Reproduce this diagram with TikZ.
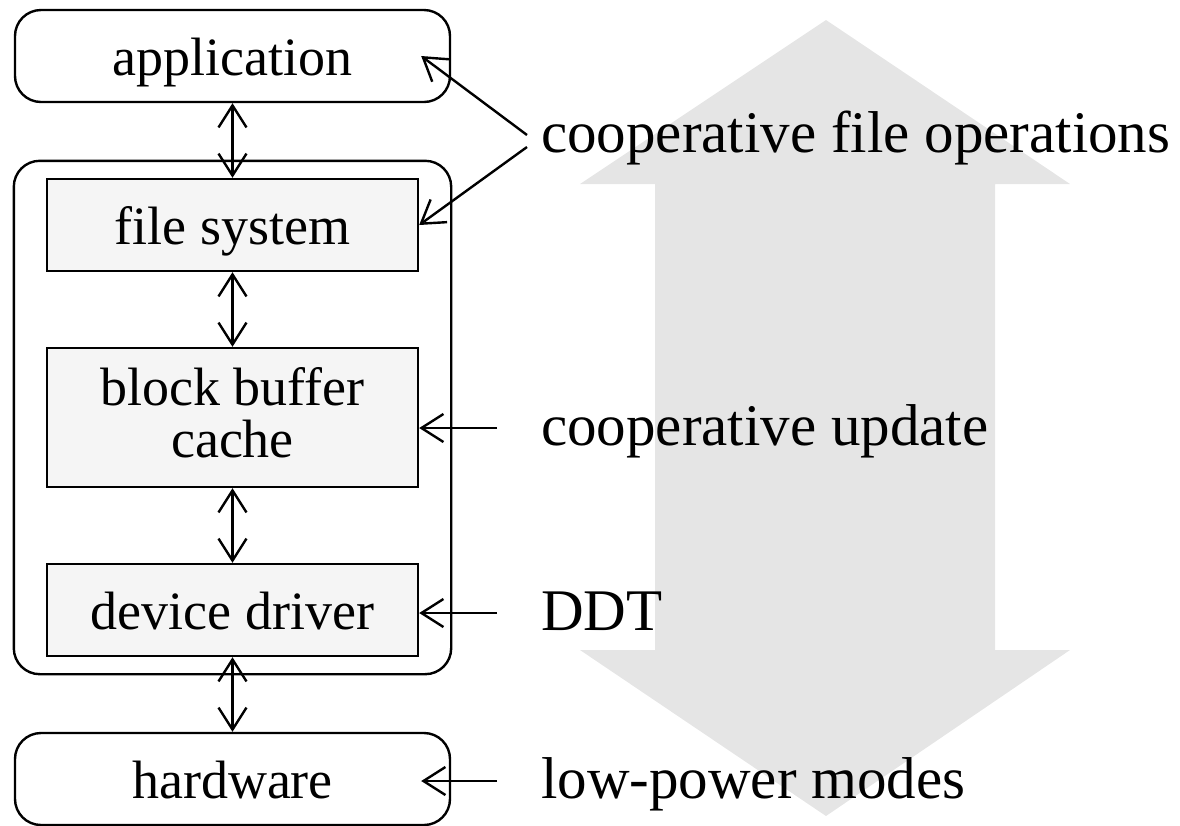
\documentclass[tikz,border=0pt]{standalone}
\usepackage{fontspec}
\setmainfont{Liberation Serif}
\usetikzlibrary{positioning, fit, arrows.meta}
\tikzset{
    >={Straight Barb[length=11pt,width=14pt]},
    node distance=37.3pt,
    boxfont/.style={font=\fontsize{27}{26}\selectfont},
    oneline/.style={text height=21.5pt, text depth=2pt},
    layer/.style={draw, rounded corners=13pt, minimum width=217.5pt, minimum height=46pt, boxfont, oneline},
    partbase/.style={draw, fill=black!4, minimum width=185.5pt, minimum height=46pt, align=center, boxfont},
    part/.style={partbase, oneline},
    note/.style={anchor=base west, inner sep=0pt, text height=20pt, text depth=3pt, font=\fontsize{29.5}{30}\selectfont},
    bigarrow/.style={fill=black!10, draw=none},
}

\begin{document}
\begin{tikzpicture}[x=0.5pt, y=-0.5pt, line width=1.2pt]
        \useasboundingbox (0,0) rectangle (1180,826);

        % direction arrow behind everything
        \fill[bigarrow] (826,20) -- (1070,184) -- (995,184) -- (995,650) -- (1070,650)
              -- (826,816) -- (580,650) -- (655,650) -- (655,184) -- (580,184) -- cycle;

        \node[layer] (app) at (232.5,56) {application};
        \node[part, below=of app] (fs) {file system};
        \node[partbase, below=of fs, minimum height=69.5pt, text depth=5pt] (cache) {block buffer\\cache};
        \node[part, below=of cache] (driver) {device driver};
        \node[layer, below=of driver] (hw) {hardware};
        \node[draw, rounded corners=13pt, inner xsep=16pt, inner ysep=8.5pt, fit=(fs)(cache)(driver)] (kernel) {};

        \node[note] (ops) at (540,152) {cooperative file operations};
        \node[note] (upd) at (540,445) {cooperative update};
        \node[note] (ddt) at (540,630) {DDT};
        \node[note] (lpm) at (540,798) {low-power modes};

        \draw[<->] (app) -- (fs);
        \draw[<->] (fs) -- (cache);
        \draw[<->] (cache) -- (driver);
        \draw[<->] (driver) -- (hw);

        \draw[->] ([xshift=-6.5pt]ops.west) -- ([xshift=-15pt]app.east);
        \draw[->] ([shift={(-6.5pt,-6pt)}]ops.west) -- (fs.east);
        \draw[->] ([xshift=-21.5pt]upd.west) -- (upd.west -| cache.east);
        \draw[->] ([xshift=-21.5pt]ddt.west) -- (ddt.west -| driver.east);
        \draw[->, shorten >=-15pt] ([xshift=-21.5pt]lpm.west) -- (lpm.west -| hw.east);
\end{tikzpicture}
\end{document}
